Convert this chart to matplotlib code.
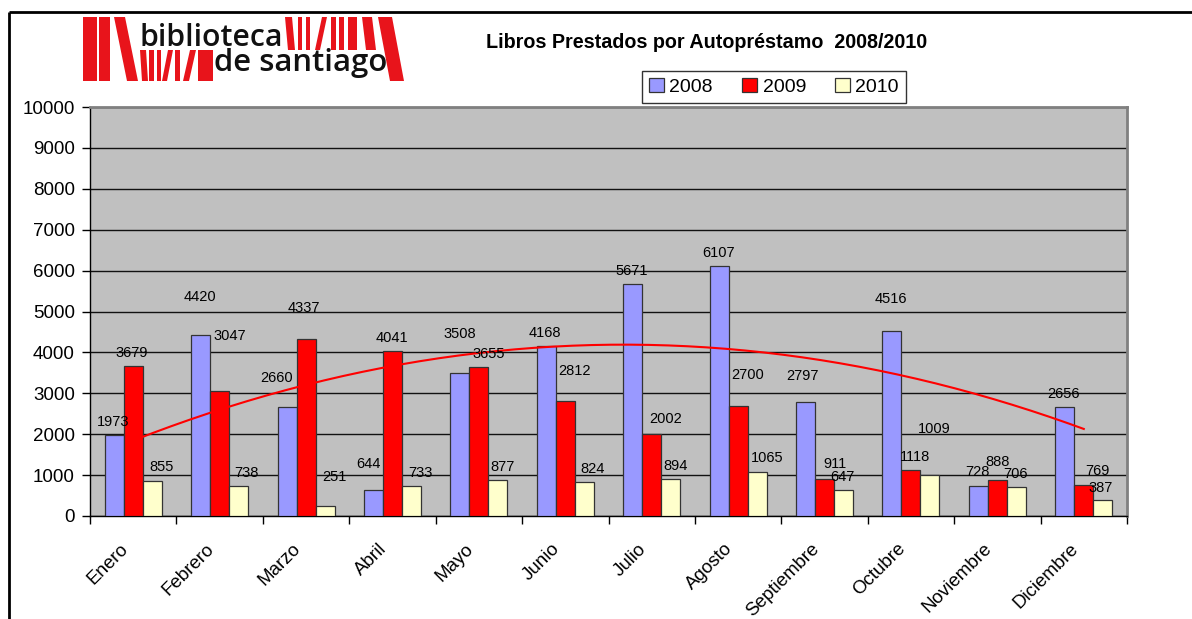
import matplotlib
matplotlib.use("Agg")
import matplotlib.pyplot as plt
from matplotlib.patches import Polygon
from matplotlib.transforms import ScaledTranslation
import numpy as np

plt.rcParams['font.family'] = ['Liberation Sans', 'DejaVu Sans']

# ---------------- data ----------------
months = ["Enero", "Febrero", "Marzo", "Abril", "Mayo", "Junio", "Julio",
          "Agosto", "Septiembre", "Octubre", "Noviembre", "Diciembre"]
years = ["2008", "2009", "2010"]
v2008 = [1973, 4420, 2660, 644, 3508, 4168, 5671, 6107, 2797, 4516, 728, 2656]
v2009 = [3679, 3047, 4337, 4041, 3655, 2812, 2002, 2700, 911, 1118, 888, 769]
v2010 = [855, 738, 251, 733, 877, 824, 894, 1065, 647, 1009, 706, 387]
yticks = list(range(0, 10001, 1000))
title = "Libros Prestados por Autopréstamo  2008/2010"

# label offsets (pixels) from bar top
lab_dx = [[-1, -1, -10, -5, 0, -1, -1, -1, -3, -1, -1, -1],
          [-1, 10, -2, -1, 10, 9, 14, 10, 10, 4, 0, 14],
          [9, 8, 9, 9, 5, 8, 5, 10, -1, 4, -1, -2]]
lab_dy = [[13, 38, 29, 26, 39, 13, 13, 13, 26, 32, 14, 13],
          [13, 55, 31, 13, 13, 30, 15, 31, 15, 13, 18, 14],
          [14, 13, 29, 13, 13, 13, 13, 14, 13, 46, 13, 12]]

colors = ["#9999FF", "#FF0000", "#FFFFCC"]
W, H = 1192, 619

fig = plt.figure(figsize=(W / 100, H / 100), dpi=100)
fig.patch.set_facecolor("white")

# decoration axes in pixel coordinates (frame + logo)
deco = fig.add_axes([0, 0, 1, 1], zorder=0)
deco.set_xlim(0, W)
deco.set_ylim(H, 0)
deco.axis("off")
deco.plot([9, W], [12, 12], color="#000000", lw=2, solid_capstyle="butt")
deco.plot([9, 9], [12, H], color="#000000", lw=2, solid_capstyle="butt")

red = "#E8141B"
logo_polys = [
    # full height left
    [(83, 17), (97, 17), (97, 81), (83, 81)],
    [(99, 17), (110, 17), (110, 81), (99, 81)],
    [(114, 17), (125, 17), (138, 81), (127, 81)],
    # bottom row left of "de santiago"
    [(140, 50), (146, 50), (148, 81), (142, 81)],
    [(149, 50), (154, 50), (154, 81), (149, 81)],
    [(157, 50), (161, 50), (161, 81), (157, 81)],
    [(168, 50), (173, 50), (167, 81), (162, 81)],
    [(175, 50), (180, 50), (180, 81), (175, 81)],
    [(190, 50), (196, 50), (189, 81), (183, 81)],
    [(198, 50), (213, 50), (213, 81), (198, 81)],
    # top row right of "biblioteca"
    [(285, 17), (292, 17), (295, 50), (288, 50)],
    [(298, 17), (302, 17), (302, 50), (298, 50)],
    [(306, 17), (310, 17), (310, 50), (306, 50)],
    [(322, 17), (327, 17), (320, 50), (315, 50)],
    [(331, 17), (336, 17), (336, 50), (331, 50)],
    [(339, 17), (344, 17), (344, 50), (339, 50)],
    [(348, 17), (357, 17), (357, 50), (348, 50)],
    [(362, 17), (372, 17), (376, 50), (366, 50)],
    # right big slanted
    [(378, 17), (392, 17), (404, 81), (390, 81)],
]
for p in logo_polys:
    deco.add_patch(Polygon(p, closed=True, facecolor=red, edgecolor="none"))

renderer = fig.canvas.get_renderer()
for txt, x0, yb, wid in [("biblioteca", 140, 45.5, 143), ("de santiago", 214, 71.5, 173)]:
    t = deco.text(x0, yb, txt, fontsize=20, family=["Open Sans", "DejaVu Sans"],
                  fontweight="semibold", color="#111111", ha="left", va="baseline")
    bb = t.get_window_extent(renderer)
    t.set_fontsize(20 * wid / bb.width)

# title
fig.text(707 / W, 1 - 43 / H, title, ha="center", va="center",
         fontsize=14.2, fontweight="bold", color="black")

# main axes
ax = fig.add_axes([90 / W, 1 - 516 / H, (1127 - 90) / W, (516 - 107) / H], zorder=2)
ax.set_facecolor("#C0C0C0")
x = np.arange(len(months))
bw = 0.22
series = [v2008, v2009, v2010]
bars = []
for k, (vals, col) in enumerate(zip(series, colors)):
    b = ax.bar(x + (k - 1) * bw, vals, width=bw, color=col, edgecolor="#333333",
               linewidth=0.9, zorder=3, label=years[k])
    bars.append(b)
    for i, v in enumerate(vals):
        ax.annotate(str(v), xy=(x[i] + (k - 1) * bw, v),
                    xytext=(lab_dx[k][i], lab_dy[k][i]), textcoords="offset pixels",
                    ha="center", va="center", fontsize=10.5, color="black", zorder=5)

# polynomial trendline (order 2) of 2008
coef = np.polyfit(x, v2008, 2)
xs = np.linspace(x[0], x[-1], 200)
ax.plot(xs, np.polyval(coef, xs), color="#FF0000", lw=1.5, zorder=4)

ax.set_xlim(-0.5, len(months) - 0.5)
ax.set_ylim(0, 10000)
ax.set_yticks(yticks)
ax.set_yticklabels([str(t) for t in yticks], fontsize=13.5)
ax.yaxis.grid(True, color="#111111", lw=1.0, zorder=1)
ax.set_axisbelow(True)
ax.tick_params(axis="y", length=6, width=1, pad=5, color="black")

ax.set_xticks(np.arange(-0.5, len(months), 1.0))
ax.set_xticklabels([])
ax.tick_params(axis="x", length=6, width=1, color="black")
ax.set_xticks(x, minor=True)
ax.set_xticklabels(months, minor=True, rotation=45, ha="right",
                   rotation_mode="anchor", fontsize=13.5)
ax.tick_params(axis="x", which="minor", length=0, pad=16)
shift = ScaledTranslation(-14 / 100, -2 / 100, fig.dpi_scale_trans)
for lab in ax.get_xticklabels(minor=True):
    lab.set_transform(lab.get_transform() + shift)

for s in ["top", "right"]:
    ax.spines[s].set_color("#808080")
    ax.spines[s].set_linewidth(2)
ax.spines["left"].set_color("black")
ax.spines["bottom"].set_color("black")
ax.spines["left"].set_linewidth(1)
ax.spines["bottom"].set_linewidth(1)

leg = fig.legend(handles=bars, labels=years, loc="center",
                 bbox_to_anchor=(774 / W, 1 - 87 / H), ncol=3, frameon=True,
                 fontsize=14, handlelength=0.75, handleheight=0.75,
                 handletextpad=0.3, columnspacing=1.5, borderpad=0.35,
                 fancybox=False, edgecolor="black")
leg.get_frame().set_linewidth(1)

fig.savefig("out.png", dpi=100, facecolor="white")
